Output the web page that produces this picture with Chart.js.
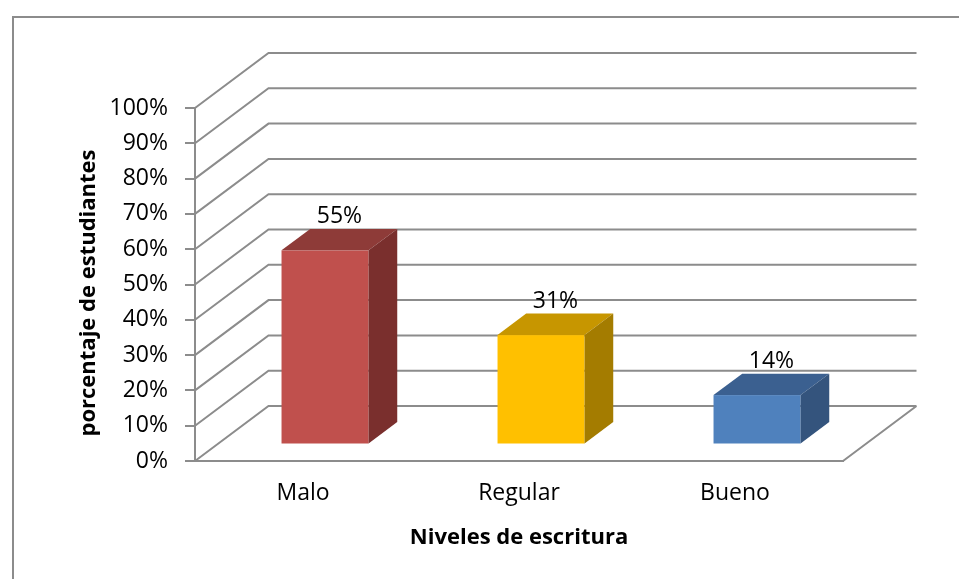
<!DOCTYPE html>
<html>
<head>
<meta charset="utf-8">
<script src="https://cdn.jsdelivr.net/npm/chart.js@4"></script>
<style>
  html, body { margin: 0; padding: 0; background: #fff; }
  #wrap { width: 959px; height: 579px; position: relative; }
</style>
</head>
<body>
<div id="wrap"><canvas id="chart"></canvas></div>
<script>
// datos del grafico
const categories = ['Malo', 'Regular', 'Bueno'];
const percentages = [55, 31, 14];
const yTickValues = [0, 10, 20, 30, 40, 50, 60, 70, 80, 90, 100];

// colores de las caras (frente, tapa, lado)
const frontColors = ['#C0504D', '#FFC000', '#4F81BD'];
const topColors = ['#8E3B38', '#C79600', '#3B6090'];
const sideColors = ['#7A2F2D', '#A47C00', '#34547D'];

const DEPTH_X = 73.5;
const DEPTH_Y = 55;
const BAR_FRONT = 0.30;
const BAR_BACK = 0.69;
const LINE_GRAY = '#8c8c8c';

const threeD = {
    id: 'threeD',
    beforeDraw(chart) {
        const ctx = chart.ctx;
        ctx.save();
        ctx.strokeStyle = LINE_GRAY;
        ctx.lineWidth = 2;
        ctx.strokeRect(13, 17, chart.width + 20, chart.height + 20);
        ctx.restore();
    },
    beforeDatasetsDraw(chart) {
        const ctx = chart.ctx;
        const y = chart.scales.y;
        const { left, right, bottom } = chart.chartArea;
        ctx.save();
        ctx.strokeStyle = LINE_GRAY;
        ctx.lineWidth = 2;
        ctx.beginPath();
        y.ticks.forEach(t => {
            const py = y.getPixelForValue(t.value);
            ctx.moveTo(left, py);
            ctx.lineTo(left + DEPTH_X, py - DEPTH_Y);
            ctx.lineTo(right + DEPTH_X, py - DEPTH_Y);
        });
        // borde derecho del piso
        ctx.moveTo(right, bottom);
        ctx.lineTo(right + DEPTH_X, bottom - DEPTH_Y);
        ctx.stroke();
        ctx.restore();
    },
    afterDatasetsDraw(chart) {
        const ctx = chart.ctx;
        const meta = chart.getDatasetMeta(0);
        const fx = DEPTH_X * BAR_FRONT, fy = DEPTH_Y * BAR_FRONT;
        const dx = DEPTH_X * (BAR_BACK - BAR_FRONT), dy = DEPTH_Y * (BAR_BACK - BAR_FRONT);
        ctx.save();
        meta.data.forEach((bar, i) => {
            const x0 = bar.x - bar.width / 2 + fx;
            const x1 = bar.x + bar.width / 2 + fx;
            const top = bar.y - fy;
            const base = bar.base - fy;
            // frente
            ctx.fillStyle = frontColors[i];
            ctx.fillRect(x0, top, x1 - x0, base - top);
            // tapa
            ctx.fillStyle = topColors[i];
            ctx.beginPath();
            ctx.moveTo(x0, top);
            ctx.lineTo(x0 + dx, top - dy);
            ctx.lineTo(x1 + dx, top - dy);
            ctx.lineTo(x1, top);
            ctx.closePath();
            ctx.fill();
            // lado
            ctx.fillStyle = sideColors[i];
            ctx.beginPath();
            ctx.moveTo(x1, top);
            ctx.lineTo(x1 + dx, top - dy);
            ctx.lineTo(x1 + dx, base - dy);
            ctx.lineTo(x1, base);
            ctx.closePath();
            ctx.fill();
            // etiqueta
            ctx.fillStyle = '#000';
            ctx.font = '23px "Open Sans"';
            ctx.textAlign = 'center';
            ctx.textBaseline = 'middle';
            ctx.fillText(percentages[i] + '%', (x0 + x1) / 2 + dx / 2, top - dy - 12);
        });
        ctx.restore();
    },
    afterDraw(chart) {
        const ctx = chart.ctx;
        ctx.save();
        ctx.translate(89, 293);
        ctx.rotate(-Math.PI / 2);
        ctx.fillStyle = '#000';
        ctx.font = 'bold 22px "Open Sans"';
        ctx.textAlign = 'center';
        ctx.textBaseline = 'middle';
        ctx.fillText('porcentaje de estudiantes', 0, 0);
        ctx.restore();
    }
};

Chart.defaults.font.family = '"Open Sans"';
Chart.defaults.color = '#000';

new Chart(document.getElementById('chart'), {
    type: 'bar',
    data: {
        labels: categories,
        datasets: [{
            data: percentages,
            backgroundColor: 'rgba(0,0,0,0)',
            borderWidth: 0,
            categoryPercentage: 1,
            barPercentage: 0.403
        }]
    },
    options: {
        responsive: true,
        maintainAspectRatio: false,
        animation: false,
        layout: { padding: { top: 108, right: 116, left: 0, bottom: 0 } },
        plugins: { legend: { display: false }, tooltip: { enabled: false } },
        scales: {
            x: {
                grid: { display: false, drawTicks: false },
                border: { display: true, color: LINE_GRAY, width: 2 },
                ticks: { font: { size: 23 }, padding: 19 },
                title: {
                    display: true,
                    text: 'Niveles de escritura',
                    font: { size: 22, weight: 'bold' },
                    padding: { top: 4, bottom: 28 }
                },
                afterFit(scale) { scale.height = 118; }
            },
            y: {
                min: 0,
                max: 100,
                afterBuildTicks(scale) { scale.ticks = yTickValues.map(v => ({ value: v })); },
                grid: { drawOnChartArea: false, drawTicks: true, tickLength: 10, color: LINE_GRAY, lineWidth: 2 },
                border: { display: true, color: LINE_GRAY, width: 2 },
                ticks: { font: { size: 23 }, padding: 17, callback: v => v + '%' },
                afterFit(scale) { scale.width = 195; }
            }
        }
    },
    plugins: [threeD]
});
</script>
</body>
</html>
